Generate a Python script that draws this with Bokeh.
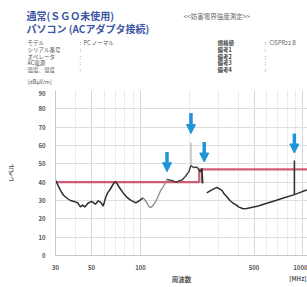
from bokeh.plotting import figure
from bokeh.layouts import column
from bokeh.models import Range1d, FixedTicker, Arrow, NormalHead, PrintfTickFormatter
from bokeh.core.properties import value
from bokeh.embed import file_html
from bokeh.resources import INLINE

# ---- data ----
trace1_freq = [30, 31, 32.2, 33.5, 35, 37, 39, 41, 42.7, 44, 45.5, 47.5, 50, 52.8, 55, 57, 59, 61,
               62.6, 65, 68, 70, 72, 74.5, 78.5, 82, 86, 90, 93, 96, 100, 104]
trace1_level = [41.0, 38.5, 35.5, 33.0, 31.5, 30.0, 29.5, 28.8, 26.5, 27.5, 26.5, 28.5, 29.5, 28.0, 29.8,
                29.0, 27.0, 31.5, 34.0, 36.0, 39.0, 40.3, 39.0, 36.8, 34.0, 32.0, 30.5, 29.5, 28.8, 29.2,
                30.3, 31.4]
trace2_freq = [104, 107, 110, 113, 116, 120, 124, 127, 132.5, 138, 142, 145.6]
trace2_level = [31.4, 30.0, 28.5, 26.5, 26.2, 27.5, 29.5, 31.4, 35.1, 37.5, 39.4, 41.5]
trace3_freq = [145.6, 150, 156, 162, 168, 174, 180, 189, 198, 204.5, 212, 222.6, 233, 239, 242]
trace3_level = [41.5, 41.2, 41.0, 40.3, 40.0, 40.8, 41.2, 43.1, 45.6, 49.1, 48.0, 48.2, 45.6, 47.4, 39.4]
trace4_freq = [256, 265, 275, 295, 305, 317, 328, 340, 355, 372, 390, 401, 428, 450, 473, 530, 599,
               680, 758, 885, 1000, 1066]
trace4_level = [34.1, 35.0, 35.8, 37.2, 36.5, 35.5, 33.5, 32.0, 30.0, 28.5, 27.5, 26.5, 25.5, 25.6,
                26.0, 27.0, 28.5, 30.0, 31.4, 33.2, 35.0, 35.8]

peak_freq = [204.5]
peak_low = [49.1]
peak_high = [61.5]
spike_freq = [239, 885]
spike_low = [39.4, 33.2]
spike_high = [47.5, 51.8]

limit_freq = [30, 230, 230, 1066]
limit_level = [40, 40, 47, 47]

arrow_freq = [145.6, 204.5, 246.8, 885]
arrow_top = [56.4, 77.7, 61.9, 66.5]
arrow_tip = [45.7, 66.5, 51.0, 55.9]

x_ticks = [30, 50, 100, 500, 1000]
x_minor = [40, 60, 70, 80, 90, 200, 300, 400, 600, 700, 800, 900]
y_ticks = [0, 10, 20, 30, 40, 50, 60, 70, 80, 90]

title1 = "通常(ＳＧＯ未使用)"
title2 = "パソコン (ACアダプタ接続)"
header_text = "<<妨害電界強度測定>>"
left_fields = ["モデル", "シリアル番号", "オペレータ", "AC電源", "温度、湿度"]
left_values = ["PC ノーマル", "", "", "", ""]
right_fields = ["規格値", "備考1", "備考2", "備考3", "備考4"]
right_values = ["CISPR22 B", "", "", "", ""]
unit_y = "[dBμV/m]"
x_label = "周波数"
unit_x = "[MHz]"
y_label = "レベル"

FONT = "Noto Sans CJK JP"
W = 307


def blank(height, x0, x1, y0, y1):
    f = figure(width=W, height=height, x_range=Range1d(x0, x1), y_range=Range1d(y1, y0),
               x_axis_location=None, y_axis_location=None, output_backend="svg",
               toolbar_location=None, min_border=0)
    f.outline_line_color = None
    f.grid.visible = False
    return f


def put(f, txt, px, py, size, color="#555555", style="normal", align="left"):
    f.text(x=[px], y=[py], text=[txt], text_font=value(FONT), text_font_size=size,
           text_color=color, text_font_style=style, text_baseline="middle", text_align=align)


# ---- header strip (page y 0..90) ----
head = blank(90, 0, W, 0, 90)
put(head, title1, 26, 15, "10px", "#3d55a5", "bold")
put(head, title2, 26, 28, "10px", "#3d55a5", "bold")
put(head, header_text, 183, 15, "6.5px", "#666666")
rows_y = [42, 49, 56, 62, 69]
for name, val, yy in zip(left_fields, left_values, rows_y):
    put(head, name, 27, yy, "5.5px", "#555555")
    put(head, ":", 79, yy, "5.5px", "#777777")
    if val:
        put(head, val, 83, yy, "5.5px", "#555555")
for name, val, yy in zip(right_fields, right_values, rows_y):
    put(head, name, 217, yy, "5.5px", "#444444", "bold")
    put(head, ":", 264, yy, "5.5px", "#777777")
    if val:
        put(head, val, 269, yy, "5.5px", "#666666")
put(head, unit_y, 27, 81, "5.5px", "#555555")

# ---- main chart (page y 90..272) ----
p = figure(width=W, height=182, x_axis_type="log",
           x_range=Range1d(30, 1066), y_range=Range1d(0, 90),
           output_backend="svg", toolbar_location=None,
           min_border_left=55, min_border_right=0, min_border_top=0, min_border_bottom=13)
p.outline_line_color = None

p.xaxis.ticker = FixedTicker(ticks=x_ticks, minor_ticks=x_minor)
p.xaxis.formatter = PrintfTickFormatter(format="%d")
p.yaxis.ticker = FixedTicker(ticks=y_ticks)
for ax in (p.xaxis, p.yaxis):
    ax.major_tick_line_color = None
    ax.minor_tick_line_color = None
    ax.axis_line_color = "#c8c8c8"
    ax.major_label_text_font_size = "6px"
    ax.major_label_text_font_style = "bold"
    ax.major_label_text_color = "#555555"
    ax.major_label_text_font = FONT
    ax.axis_label_text_font = FONT
    ax.axis_label_text_font_size = "6px"
    ax.axis_label_text_font_style = "bold"
    ax.axis_label_text_color = "#555555"
p.xaxis.major_label_standoff = 3
p.yaxis.major_label_standoff = 4
p.yaxis.axis_label = y_label
p.yaxis.axis_label_standoff = 20

p.xgrid.grid_line_color = "#d8d8d8"
p.xgrid.minor_grid_line_color = "#ebebeb"
p.ygrid.grid_line_color = "#dedede"

p.line(limit_freq, limit_level, line_color="#cc4d66", line_width=2.3, line_alpha=0.9)

p.line(trace1_freq, trace1_level, line_color="#2e2e2e", line_width=1.5)
p.line(trace2_freq, trace2_level, line_color="#8a8a8a", line_width=1.3)
p.line(trace3_freq, trace3_level, line_color="#3a3a3a", line_width=1.4)
p.line(trace4_freq, trace4_level, line_color="#2e2e2e", line_width=1.5)
p.segment(x0=peak_freq, y0=peak_low, x1=peak_freq, y1=peak_high, line_color="#b0b0b0", line_width=1.2)
p.segment(x0=spike_freq, y0=spike_low, x1=spike_freq, y1=spike_high, line_color="#333333", line_width=1.5)

BLUE = "#1f95d8"
for f, t, b in zip(arrow_freq, arrow_top, arrow_tip):
    p.add_layout(Arrow(end=NormalHead(size=9, fill_color=BLUE, line_color=BLUE),
                       x_start=f, y_start=t, x_end=f, y_end=b,
                       line_color=BLUE, line_width=3.5))

# ---- footer strip (page y 272..287); its frame lines up with the chart frame (x 55..307) ----
foot = blank(15, 55, W, 272, 287)
put(foot, x_label, 181, 278, "6.5px", "#555555", "bold", "center")
put(foot, unit_x, 306, 278, "6px", "#555555", "bold", "right")

layout = column(head, column(p, foot, spacing=0), spacing=0)
open("out.html", "w").write(file_html(layout, INLINE))
